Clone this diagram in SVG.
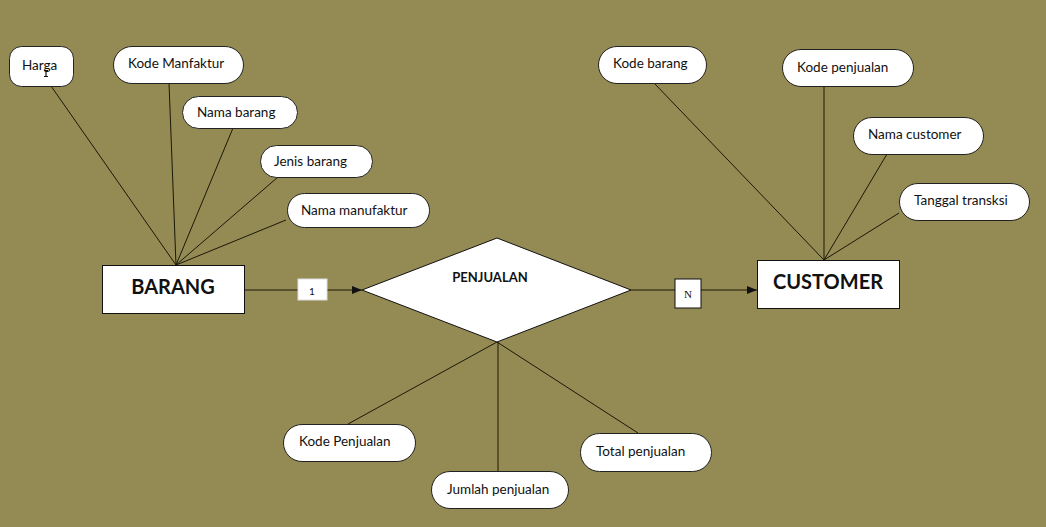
<svg xmlns="http://www.w3.org/2000/svg" width="1046" height="527" viewBox="0 0 1046 527">
<defs>
<style>
.attr{fill:#fff;stroke:#222;stroke-width:1}
.ent{fill:#fff;stroke:#111;stroke-width:1}
.t{font-family:Lato,"Liberation Sans",sans-serif;font-size:13.5px;fill:#111}
.b{font-family:Lato,"Liberation Sans",sans-serif;font-weight:bold;fill:#111}
.c line{stroke:#1a1808;stroke-width:1}
</style>
<marker id="arr" viewBox="0 0 10 10" refX="10" refY="5" markerWidth="10" markerHeight="10" markerUnits="userSpaceOnUse" orient="auto">
<path d="M0,1 L10,5 L0,9 Z" fill="#111"/>
</marker>
</defs>
<rect width="1046" height="527" fill="#948a54"/>
<g class="c" id="connectors">
<line x1="51" y1="86" x2="176" y2="265"/>
<line x1="169" y1="83" x2="176" y2="265"/>
<line x1="233" y1="128" x2="176" y2="265"/>
<line x1="278" y1="177" x2="176" y2="265"/>
<line x1="286" y1="220" x2="176" y2="265"/>
<line x1="654" y1="83" x2="824" y2="260"/>
<line x1="824" y1="86" x2="824" y2="260"/>
<line x1="887" y1="154" x2="824" y2="260"/>
<line x1="899" y1="213" x2="824" y2="260"/>
<line x1="348" y1="424" x2="497" y2="342"/>
<line x1="498" y1="342" x2="498" y2="471"/>
<line x1="638" y1="433" x2="497" y2="342"/>
<line x1="244" y1="290" x2="362" y2="290" marker-end="url(#arr)"/>
<line x1="631" y1="290" x2="757" y2="290" marker-end="url(#arr)"/>
<rect x="298" y="279" width="29" height="21" fill="#fff" stroke="#ddd" stroke-width="1"/>
<text x="312" y="295" text-anchor="middle" font-family="Lato,'Liberation Sans',sans-serif" font-size="10" fill="#111">1</text>
<rect x="675" y="279" width="26" height="29" fill="#fff" stroke="#111" stroke-width="1"/>
<text x="688" y="298" text-anchor="middle" font-family="'Liberation Serif',serif" font-size="11" fill="#111">N</text>
</g>
<g id="harga"><rect class="attr" x="9.5" y="46.5" width="64" height="40" rx="12"/><text class="t" x="22" y="70">Harga</text><path d="M44,70.5 h4 M46,70.5 v6 M44,76.5 h4" stroke="#111" stroke-width="1.2" fill="none"/></g>
<g id="kode-manfaktur"><rect class="attr" x="113.5" y="46.5" width="130" height="37" rx="18.5"/><text class="t" x="128" y="68">Kode Manfaktur</text></g>
<g id="nama-barang"><rect class="attr" x="182.5" y="96.5" width="115" height="32" rx="16"/><text class="t" x="197" y="117">Nama barang</text></g>
<g id="jenis-barang"><rect class="attr" x="260.5" y="145.5" width="112" height="32" rx="16"/><text class="t" x="274" y="166">Jenis barang</text></g>
<g id="nama-manufaktur"><rect class="attr" x="287.5" y="193.5" width="142" height="34" rx="17"/><text class="t" x="301" y="215">Nama manufaktur</text></g>
<g id="barang"><rect class="ent" x="102.5" y="265.5" width="142" height="48"/><text class="b" x="173" y="294" font-size="20" text-anchor="middle">BARANG</text></g>
<g id="penjualan"><polygon points="362,290 497,238 631,290 497,342" fill="#fff" stroke="#111" stroke-width="1"/><text class="b" x="490" y="282" font-size="13" text-anchor="middle">PENJUALAN</text></g>
<g id="customer"><rect class="ent" x="757.5" y="260.5" width="142" height="48"/><text class="b" x="828" y="289" font-size="20" text-anchor="middle">CUSTOMER</text></g>
<g id="kode-barang"><rect class="attr" x="598.5" y="46.5" width="108" height="37" rx="18.5"/><text class="t" x="613" y="68">Kode barang</text></g>
<g id="kode-penjualan"><rect class="attr" x="782.5" y="49.5" width="131" height="37" rx="18.5"/><text class="t" x="797" y="72">Kode penjualan</text></g>
<g id="nama-customer"><rect class="attr" x="853.5" y="117.5" width="130" height="37" rx="18.5"/><text class="t" x="868" y="139">Nama customer</text></g>
<g id="tanggal-transksi"><rect class="attr" x="899.5" y="183.5" width="130" height="37" rx="18.5"/><text class="t" x="914" y="205">Tanggal transksi</text></g>
<g id="kode-penjualan-2"><rect class="attr" x="283.5" y="424.5" width="132" height="37" rx="18.5"/><text class="t" x="299" y="446">Kode Penjualan</text></g>
<g id="jumlah-penjualan"><rect class="attr" x="431.5" y="471.5" width="137" height="37" rx="18.5"/><text class="t" x="447" y="494">Jumlah penjualan</text></g>
<g id="total-penjualan"><rect class="attr" x="580.5" y="433.5" width="131" height="38" rx="19"/><text class="t" x="596" y="456">Total penjualan</text></g>
</svg>
